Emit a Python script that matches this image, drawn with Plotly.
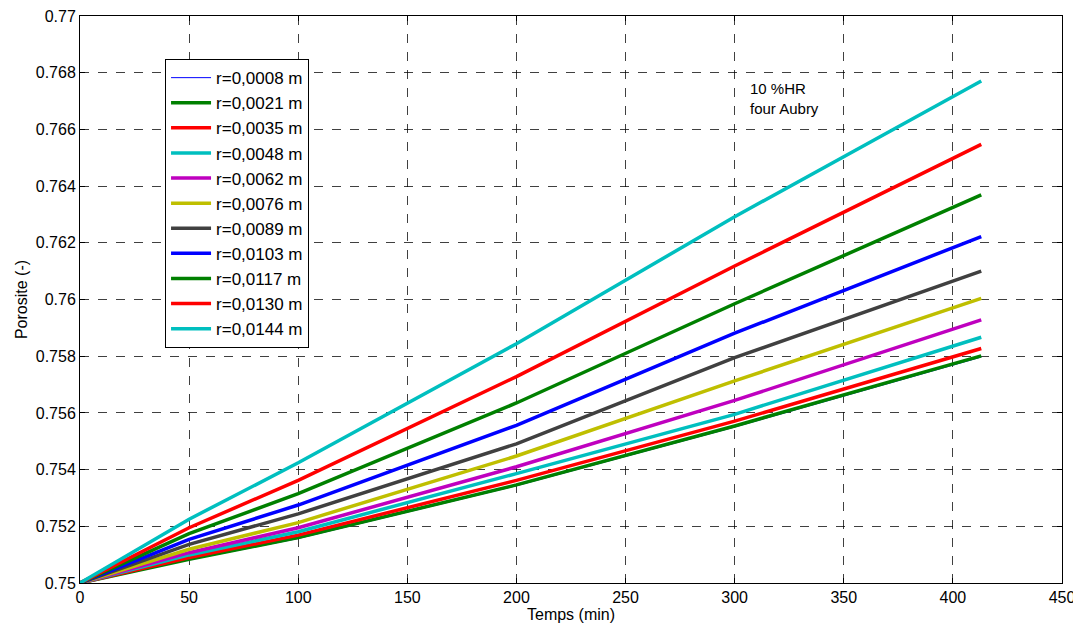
import plotly.graph_objects as go

times = [0, 50, 100, 200, 300, 413]

labels = ["r=0,0008 m", "r=0,0021 m", "r=0,0035 m", "r=0,0048 m", "r=0,0062 m",
          "r=0,0076 m", "r=0,0089 m", "r=0,0103 m", "r=0,0117 m", "r=0,0130 m",
          "r=0,0144 m"]
colors = ["#0000FF", "#008000", "#FF0000", "#00BFBF", "#BF00BF", "#BFBF00",
          "#404040", "#0000FF", "#008000", "#FF0000", "#00BFBF"]
widths = [1, 3.5, 3.5, 3.5, 3.5, 3.5, 3.5, 3.5, 3.5, 3.5, 3.5]

r0008 = [0.75, 0.75082, 0.75157, 0.75343, 0.75550, 0.75797]
r0021 = [0.75, 0.75084, 0.75160, 0.75346, 0.75554, 0.75801]
r0035 = [0.75, 0.75090, 0.75169, 0.75362, 0.75571, 0.75827]
r0048 = [0.75, 0.75099, 0.75181, 0.75386, 0.75595, 0.75867]
r0062 = [0.75, 0.75107, 0.75195, 0.75410, 0.75644, 0.75928]
r0076 = [0.75, 0.75119, 0.75213, 0.75448, 0.75713, 0.76004]
r0089 = [0.75, 0.75136, 0.75244, 0.75491, 0.75795, 0.76100]
r0103 = [0.75, 0.75154, 0.75275, 0.75556, 0.75881, 0.76222]
r0117 = [0.75, 0.75174, 0.75315, 0.75635, 0.75985, 0.76369]
r0130 = [0.75, 0.75195, 0.75362, 0.75728, 0.76118, 0.76547]
r0144 = [0.75, 0.75225, 0.75424, 0.75844, 0.76292, 0.76771]

series = [r0008, r0021, r0035, r0048, r0062, r0076, r0089, r0103, r0117, r0130, r0144]

x_ticks = [0, 50, 100, 150, 200, 250, 300, 350, 400, 450]
y_ticks = [0.75, 0.752, 0.754, 0.756, 0.758, 0.76, 0.762, 0.764, 0.766, 0.768, 0.77]
y_ticklabels = ["0.75", "0.752", "0.754", "0.756", "0.758", "0.76", "0.762", "0.764",
                "0.766", "0.768", "0.77"]

FONT = "Liberation Sans, Arial, sans-serif"

fig = go.Figure()
for lab, col, w, vals in zip(labels, colors, widths, series):
    fig.add_trace(go.Scatter(x=times, y=vals, mode="lines", name=lab,
                             line=dict(color=col, width=w)))

axis_common = dict(
    showline=True, linecolor="black", linewidth=1, mirror="ticks",
    ticks="inside", ticklen=5, tickcolor="black",
    showgrid=True, gridcolor="rgba(0,0,0,0.75)", griddash="dash", gridwidth=1,
    zeroline=False, automargin=False, ticklabeloverflow="allow",
    tickfont=dict(family=FONT, size=16, color="black"),
)

fig.update_xaxes(range=[0, 450], tickvals=x_ticks, ticklabelstandoff=0,
                 title=dict(text="Temps (min)", font=dict(family=FONT, size=16, color="black"), standoff=0),
                 **axis_common)
fig.update_yaxes(range=[0.75, 0.77], tickvals=y_ticks, ticktext=y_ticklabels,
                 title=dict(text="Porosite (-)", font=dict(family=FONT, size=16, color="black"), standoff=4),
                 **axis_common)

fig.add_annotation(x=0.68, y=0.89, xref="paper", yref="paper", xanchor="left", yanchor="top",
                   text="10 %HR<br>four Aubry", showarrow=False, align="left",
                   font=dict(family=FONT, size=15, color="black"))

# page body adds an 8px offset, so the figure is sized/margined to compensate
fig.update_layout(
    width=1073, height=618,
    margin=dict(l=72, r=19, t=8, b=43),
    paper_bgcolor="white", plot_bgcolor="white",
    font=dict(family=FONT, size=16, color="black"),
    showlegend=True,
    legend=dict(x=0.0866, y=0.924, xanchor="left", yanchor="top",
                bgcolor="white", bordercolor="black", borderwidth=1,
                font=dict(family=FONT, size=17, color="black"),
                tracegroupgap=0, itemwidth=40,
                entrywidth=130, entrywidthmode="pixels"),
)

fig.write_html("out.html")
